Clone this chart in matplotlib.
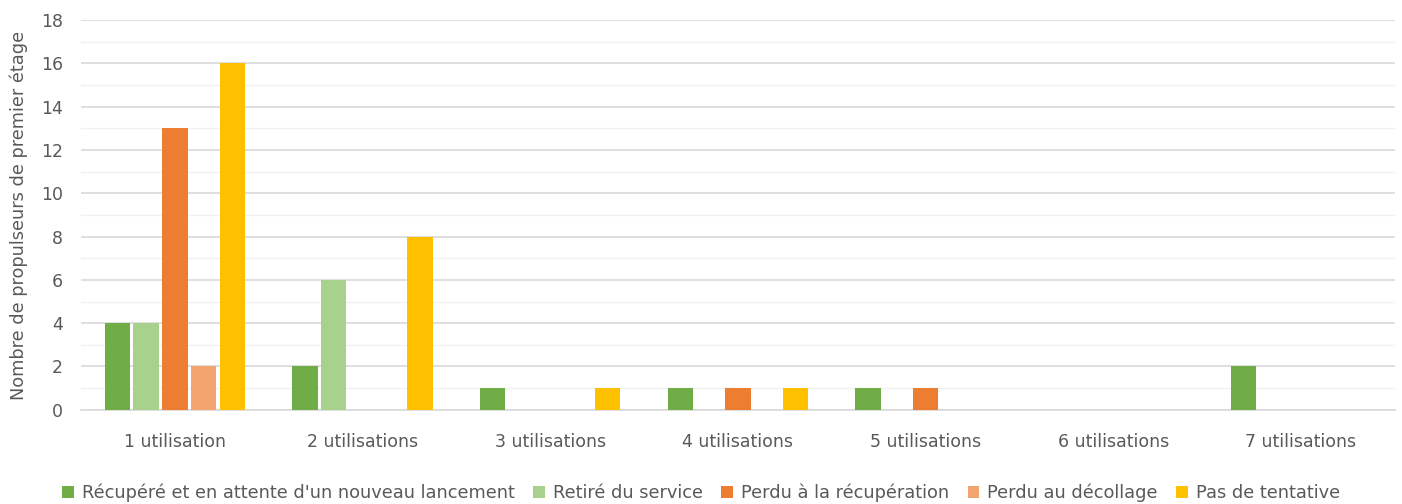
import numpy as np
import matplotlib.pyplot as plt
from matplotlib.ticker import MultipleLocator

categories = ['1 utilisation', '2 utilisations', '3 utilisations', '4 utilisations',
              '5 utilisations', '6 utilisations', '7 utilisations']
recupere = [4, 2, 1, 1, 1, 0, 2]
retire = [4, 6, 0, 0, 0, 0, 0]
perdu_recup = [13, 0, 0, 1, 1, 0, 0]
perdu_decol = [2, 0, 0, 0, 0, 0, 0]
pas_tentative = [16, 8, 1, 1, 0, 0, 0]

series = [
    ("Récupéré et en attente d'un nouveau lancement", recupere, '#70AD47'),
    ('Retiré du service', retire, '#A9D18E'),
    ('Perdu à la récupération', perdu_recup, '#ED7D31'),
    ('Perdu au décollage', perdu_decol, '#F4A46E'),
    ('Pas de tentative', pas_tentative, '#FFC000'),
]

fig = plt.figure(figsize=(14.02, 5.04), dpi=100)
ax = fig.add_axes([0.0578, 0.187, 0.937, 0.773])

x = np.arange(len(categories))
slot = 0.153
width = 0.135
for i, (name, vals, col) in enumerate(series):
    ax.bar(x + (i - 2) * slot, vals, width, color=col, label=name, zorder=3)

ax.set_xlim(-0.5, len(categories) - 0.5)
ax.set_ylim(0, 18)
ax.yaxis.set_major_locator(MultipleLocator(2))
ax.yaxis.set_minor_locator(MultipleLocator(1))
ax.grid(axis='y', which='major', color='#D9D9D9', linewidth=1.2, zorder=0)
ax.grid(axis='y', which='minor', color='#F0F0F0', linewidth=1.0, zorder=0)
for s in ['top', 'right', 'left']:
    ax.spines[s].set_visible(False)
ax.spines['bottom'].set_color('#D9D9D9')
ax.spines['bottom'].set_linewidth(1.2)

ax.set_xticks(x)
ax.set_xticklabels(categories)
ax.tick_params(axis='both', which='both', length=0, colors='#595959', labelsize=12.5)
ax.tick_params(axis='x', pad=17)
ax.tick_params(axis='y', pad=13)
ax.set_ylabel('Nombre de propulseurs de premier étage', color='#595959', fontsize=12.8)
ax.yaxis.set_label_coords(-0.040, 0.5)

fig.legend(loc='lower center', bbox_to_anchor=(0.5, -0.028), ncol=5, frameon=False,
           fontsize=12.8, labelcolor='#595959', handlelength=0.65, handleheight=0.65,
           handletextpad=0.45, columnspacing=1.05)

fig.savefig('out.png', dpi=100)
